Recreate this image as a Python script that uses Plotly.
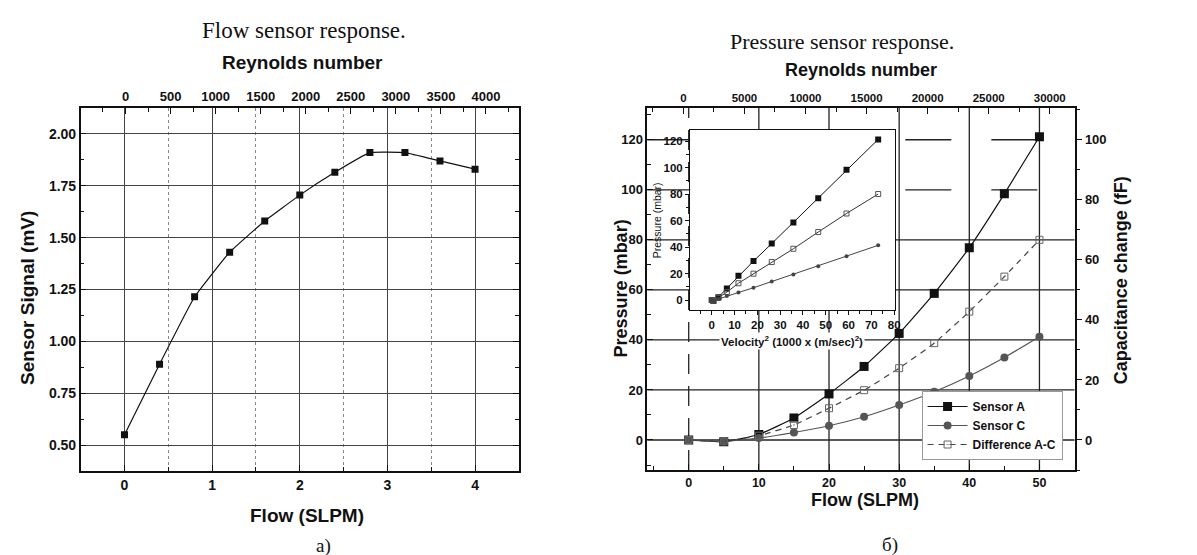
import plotly.graph_objects as go

W, H = 1197, 555

# ---------------- data ----------------
# a) flow sensor
flow_a = [0, 0.4, 0.8, 1.2, 1.6, 2.0, 2.4, 2.8, 3.2, 3.6, 4.0]
signal_a = [0.55, 0.89, 1.215, 1.43, 1.58, 1.705, 1.815, 1.91, 1.91, 1.87, 1.83]

# b) pressure sensor
flow_b = [0, 5, 10, 15, 20, 25, 30, 35, 40, 45, 50]
sensor_a = [0, -0.7, 2.2, 8.8, 18.4, 29.4, 42.6, 58.6, 76.8, 98.4, 121.2]
sensor_c = [0, -0.5, 0.8, 3.0, 5.7, 9.3, 14.0, 19.3, 25.6, 33.0, 41.3]
diff_ac = [0, -0.6, 1.7, 6.0, 12.7, 19.9, 28.7, 38.7, 51.3, 65.3, 80.0]
velocity_sq = [0, 0.7, 2.9, 6.6, 11.7, 18.3, 26.3, 35.8, 46.7, 59.1, 73.0]

grid_levels_b = [0, 20, 40, 60, 80, 100, 120]
dashed_levels_b = [100, 120]
vgrid_b = [0, 10, 20, 30, 40, 50]

# ---------------- layout helpers ----------------
def dx(a, b):
    return [a / W, b / W]

def dy(top, bottom):
    return [1 - bottom / H, 1 - top / H]

LA = (73, 513, 100, 463)     # left chart plot area (px)
RB = (642, 1071, 100, 462)   # right chart plot area
INS = (685, 891, 122, 302)   # inset plot area

SANS = "Liberation Sans, Arial, sans-serif"
SERIF = "Liberation Serif, Times New Roman, serif"
BLK = "#111"

def tickfont(sz):
    return dict(family=SANS, size=sz, color=BLK, weight="bold")

fig = go.Figure()

# ---------------- traces ----------------
fig.add_trace(go.Scatter(
    x=flow_a, y=signal_a, mode="lines+markers", xaxis="x", yaxis="y",
    line=dict(color=BLK, width=1.2, shape="spline", smoothing=0.3),
    marker=dict(symbol="square", size=7, color=BLK), showlegend=False))

fig.add_trace(go.Scatter(
    x=flow_b, y=sensor_a, mode="lines+markers", xaxis="x3", yaxis="y3",
    name="Sensor A",
    line=dict(color=BLK, width=1.2, shape="spline", smoothing=0.4),
    marker=dict(symbol="square", size=9, color=BLK)))
fig.add_trace(go.Scatter(
    x=flow_b, y=sensor_c, mode="lines+markers", xaxis="x3", yaxis="y3",
    name="Sensor C",
    line=dict(color="#555", width=1.2, shape="spline", smoothing=0.4),
    marker=dict(symbol="circle", size=8, color="#555")))
fig.add_trace(go.Scatter(
    x=flow_b, y=diff_ac, mode="lines+markers", xaxis="x3", yaxis="y3",
    name="Difference A-C",
    line=dict(color="#444", width=1.2, dash="6px,5px", shape="spline", smoothing=0.4),
    marker=dict(symbol="square-open-dot", size=7, color="#666",
                line=dict(width=1))))

# dummy traces to activate secondary axes
fig.add_trace(go.Scatter(x=[None], y=[None], xaxis="x2", yaxis="y", showlegend=False))
fig.add_trace(go.Scatter(x=[None], y=[None], xaxis="x4", yaxis="y3", showlegend=False))
fig.add_trace(go.Scatter(x=[None], y=[None], xaxis="x3", yaxis="y4", showlegend=False))

# inset traces
fig.add_trace(go.Scatter(
    x=velocity_sq, y=sensor_a, mode="lines+markers", xaxis="x5", yaxis="y5",
    line=dict(color=BLK, width=1), marker=dict(symbol="square", size=6, color=BLK),
    showlegend=False))
fig.add_trace(go.Scatter(
    x=velocity_sq, y=diff_ac, mode="lines+markers", xaxis="x5", yaxis="y5",
    line=dict(color="#333", width=1),
    marker=dict(symbol="square-open", size=5, color="#555", line=dict(width=1)),
    showlegend=False))
fig.add_trace(go.Scatter(
    x=velocity_sq, y=sensor_c, mode="lines+markers", xaxis="x5", yaxis="y5",
    line=dict(color="#444", width=1), marker=dict(symbol="circle", size=4, color="#444"),
    showlegend=False))

# ---------------- axes ----------------
common_line = dict(showline=True, linecolor=BLK, linewidth=1.5, zeroline=False)

fig.update_layout(
    xaxis=dict(domain=dx(LA[0], LA[1]), anchor="y", range=[-0.5, 4.5],
               tickvals=[0, 1, 2, 3, 4], ticks="inside", ticklen=6, tickcolor=BLK,
               minor=dict(dtick=0.5, tick0=0, ticks="inside", ticklen=4, tickcolor=BLK,
                          showgrid=True, gridcolor="#888", griddash="dot", gridwidth=1),
               showgrid=True, gridcolor="#444", gridwidth=1,
               tickfont=tickfont(14), **common_line),
    yaxis=dict(domain=dy(LA[2], LA[3]), anchor="x", range=[0.375, 2.125],
               tick0=0, dtick=0.25, tickformat=".2f", ticks="inside", ticklen=6,
               tickcolor=BLK, mirror="ticks",
               minor=dict(dtick=0.125, tick0=0, ticks="inside", ticklen=4, tickcolor=BLK),
               showgrid=True, gridcolor="#444", gridwidth=1,
               tickfont=tickfont(14), **common_line),
    xaxis2=dict(overlaying="x", anchor="y", side="top", range=[-497, 4365],
                tick0=0, dtick=500, tickformat="d", ticks="inside", ticklen=6, tickcolor=BLK,
                minor=dict(dtick=250, tick0=0, ticks="inside", ticklen=4, tickcolor=BLK),
                showgrid=False, tickfont=tickfont(13), **common_line),

    xaxis3=dict(domain=dx(RB[0], RB[1]), anchor="y3", range=[-5.9, 55],
                tick0=0, dtick=10, ticks="inside", ticklen=6, tickcolor=BLK,
                minor=dict(dtick=5, tick0=0, ticks="inside", ticklen=4, tickcolor=BLK),
                showgrid=False, tickfont=tickfont(12.5), **common_line),
    yaxis3=dict(domain=dy(RB[2], RB[3]), anchor="x3", range=[-12, 132.7],
                tick0=0, dtick=20, ticks="inside", ticklen=6, tickcolor=BLK,
                minor=dict(dtick=10, tick0=0, ticks="inside", ticklen=4, tickcolor=BLK),
                showgrid=False, tickfont=tickfont(13), **common_line),
    xaxis4=dict(overlaying="x3", anchor="y3", side="top", range=[-2955, 32030],
                tick0=0, dtick=5000, tickformat="d", ticks="inside", ticklen=6, tickcolor=BLK,
                minor=dict(dtick=2500, tick0=0, ticks="inside", ticklen=4, tickcolor=BLK),
                showgrid=False, tickfont=tickfont(11.5), **common_line),
    yaxis4=dict(overlaying="y3", anchor="x3", side="right", range=[-10, 110.6],
                tick0=0, dtick=20, ticks="outside", ticklen=6, tickcolor=BLK,
                minor=dict(dtick=10, tick0=0, ticks="outside", ticklen=4, tickcolor=BLK),
                showgrid=False, tickfont=tickfont(13), **common_line),

    xaxis5=dict(domain=dx(INS[0], INS[1]), anchor="y5", range=[-9.5, 80.5],
                tick0=0, dtick=10, ticks="outside", ticklen=4, tickcolor=BLK,
                minor=dict(dtick=5, tick0=0, ticks="outside", ticklen=3, tickcolor=BLK),
                showgrid=False, mirror=True, tickfont=tickfont(11.5),
                showline=True, linecolor=BLK, linewidth=1.2, zeroline=False),
    yaxis5=dict(domain=dy(INS[2], INS[3]), anchor="x5", range=[-7.5, 128.3],
                tick0=0, dtick=20, ticks="outside", ticklen=4, tickcolor=BLK,
                minor=dict(dtick=10, tick0=0, ticks="outside", ticklen=3, tickcolor=BLK),
                showgrid=False, mirror=True, tickfont=tickfont(11.5),
                showline=True, linecolor=BLK, linewidth=1.2, zeroline=False),
)

# ---------------- gridlines for right chart ----------------
shapes = []
for lv in grid_levels_b:
    dash = "46px,40px" if lv in dashed_levels_b else "solid"
    shapes.append(dict(type="line", xref="x3 domain", yref="y3", x0=0, x1=1,
                       y0=lv, y1=lv, line=dict(color="#222", width=1.3, dash=dash),
                       layer="below"))
for v in vgrid_b:
    dash = "20px,12px" if v == 0 else "solid"
    shapes.append(dict(type="line", xref="x3", yref="y3 domain", x0=v, x1=v,
                       y0=0, y1=1, line=dict(color="#222", width=1.3, dash=dash),
                       layer="below"))
# inset white background
shapes.append(dict(type="rect", xref="x5 domain", yref="y5 domain", x0=0, x1=1,
                   y0=0, y1=1, fillcolor="white", line=dict(width=0), layer="below"))
fig.update_layout(shapes=shapes)

# ---------------- text ----------------
def ann(text, x, y, size, family=SANS, bold=True, angle=0, bg=None):
    d = dict(text=text, x=x / W, y=1 - y / H, xref="paper", yref="paper",
             showarrow=False, textangle=angle, xanchor="center", yanchor="middle",
             font=dict(family=family, size=size, color=BLK,
                       weight="bold" if bold else "normal"))
    if bg:
        d["bgcolor"] = bg
    return d

annotations = [
    ann("Flow sensor response.", 297, 22, 23, SERIF, bold=False),
    ann("Reynolds number", 296, 55, 19),
    ann("Sensor Signal (mV)", 19, 290, 19, angle=-90),
    ann("Flow (SLPM)", 300, 507, 19),
    ann("a)", 317, 538, 19, SERIF, bold=False),

    ann("Pressure sensor response.", 838, 33, 22, SERIF, bold=False),
    ann("Reynolds number", 857, 62, 18),
    ann("Pressure (mbar)", 616, 280, 18, angle=-90),
    ann("Capacitance change (fF)", 1118, 272, 18, angle=-90),
    ann("Flow (SLPM)", 861, 492, 18),
    ann("б)", 886, 537, 19, SERIF, bold=False),

    ann("Velocity<sup>2</sup> (1000 x (m/sec)<sup>2</sup>)", 787, 333, 11.5, bg="white"),
    ann("Pressure (mbar)", 652, 212, 10.5, bold=False, angle=-90),
]
fig.update_layout(annotations=annotations)

fig.update_layout(
    width=W, height=H, autosize=False,
    margin=dict(l=0, r=0, t=0, b=0),
    paper_bgcolor="white", plot_bgcolor="rgba(0,0,0,0)",
    legend=dict(x=1059 / W, y=1 - 452 / H, xanchor="right", yanchor="bottom",
                bgcolor="white", bordercolor="#999", borderwidth=1,
                font=dict(family=SANS, size=12, color=BLK, weight="bold"),
                tracegroupgap=0, itemwidth=40),
)

fig.write_html("out.html")
